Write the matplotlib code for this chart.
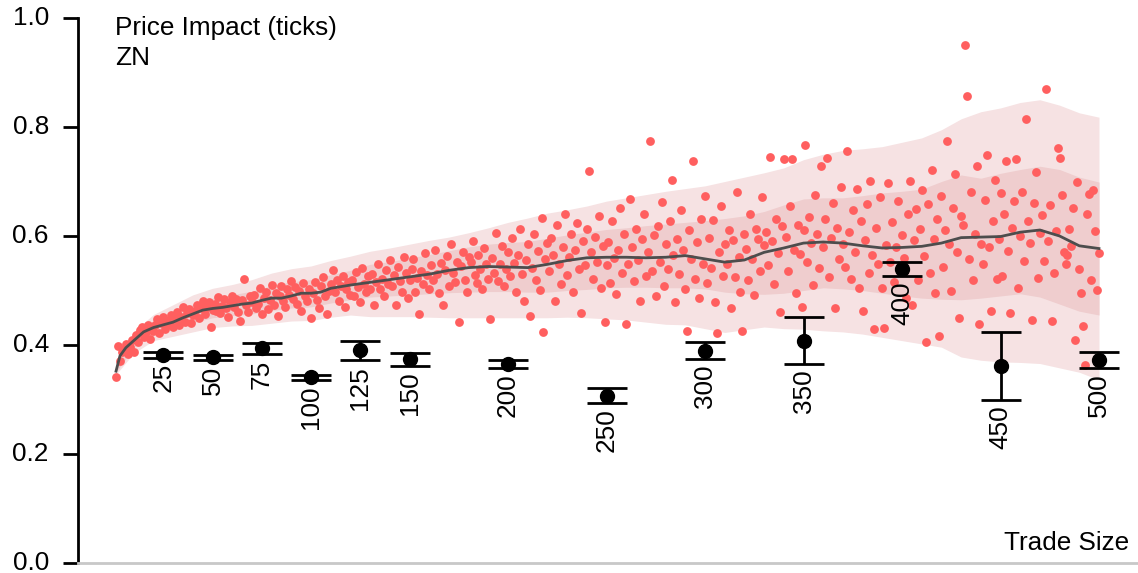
import numpy as np
import matplotlib
matplotlib.use("Agg")
import matplotlib.pyplot as plt

plt.rcParams['font.family'] = ['Liberation Sans', 'DejaVu Sans']

# Average price impact (ticks) for each trade size 1..500
trade_size = np.arange(1, 501)
impact = np.array([
    0.341, 0.398, 0.371, 0.388, 0.392, 0.402, 0.384, 0.396, 0.410, 0.388,
    0.419, 0.405, 0.428, 0.433, 0.415, 0.424, 0.437, 0.411, 0.430, 0.426,
    0.436, 0.447, 0.422, 0.441, 0.452, 0.430, 0.444, 0.438, 0.455, 0.433,
    0.448, 0.461, 0.437, 0.452, 0.470, 0.443, 0.458, 0.466, 0.440, 0.455,
    0.462, 0.474, 0.449, 0.468, 0.481, 0.456, 0.470, 0.478, 0.433, 0.465,
    0.476, 0.463, 0.488, 0.458, 0.471, 0.484, 0.467, 0.452, 0.479, 0.490,
    0.470, 0.485, 0.461, 0.444, 0.482, 0.521, 0.473, 0.460, 0.489, 0.478,
    0.492, 0.468, 0.476, 0.505, 0.457, 0.487, 0.498, 0.466, 0.483, 0.511,
    0.474, 0.496, 0.453, 0.489, 0.508, 0.480, 0.470, 0.503, 0.492, 0.518,
    0.485, 0.507, 0.476, 0.499, 0.462, 0.513, 0.490, 0.481, 0.502, 0.450,
    0.495, 0.516, 0.483, 0.468, 0.508, 0.525, 0.489, 0.457, 0.500, 0.512,
    0.538, 0.497, 0.519, 0.481, 0.508, 0.527, 0.470, 0.503, 0.515, 0.492,
    0.520, 0.489, 0.534, 0.506, 0.478, 0.541, 0.512, 0.497, 0.526, 0.503,
    0.530, 0.473, 0.515, 0.548, 0.502, 0.521, 0.490, 0.537, 0.512, 0.556,
    0.509, 0.528, 0.474, 0.544, 0.517, 0.498, 0.561, 0.533, 0.486, 0.520,
    0.540, 0.557, 0.497, 0.523, 0.456, 0.535, 0.512, 0.568, 0.529, 0.503,
    0.546, 0.519, 0.575, 0.530, 0.495, 0.551, 0.474, 0.538, 0.563, 0.508,
    0.586, 0.532, 0.515, 0.553, 0.442, 0.545, 0.570, 0.520, 0.498, 0.562,
    0.553, 0.591, 0.528, 0.514, 0.566, 0.539, 0.502, 0.578, 0.548, 0.521,
    0.448, 0.560, 0.533, 0.605, 0.517, 0.549, 0.582, 0.509, 0.540, 0.571,
    0.527, 0.596, 0.551, 0.498, 0.565, 0.612, 0.530, 0.480, 0.556, 0.585,
    0.453, 0.541, 0.604, 0.520, 0.572, 0.501, 0.633, 0.424, 0.558, 0.588,
    0.535, 0.597, 0.566, 0.481, 0.621, 0.549, 0.512, 0.580, 0.640, 0.528,
    0.561, 0.603, 0.498, 0.575, 0.624, 0.539, 0.458, 0.590, 0.547, 0.612,
    0.719, 0.570, 0.521, 0.598, 0.553, 0.636, 0.505, 0.581, 0.442, 0.546,
    0.589, 0.514, 0.627, 0.560, 0.493, 0.575, 0.651, 0.532, 0.603, 0.439,
    0.548, 0.668, 0.580, 0.517, 0.612, 0.556, 0.481, 0.594, 0.640, 0.527,
    0.571, 0.774, 0.535, 0.602, 0.490, 0.618, 0.552, 0.663, 0.509, 0.586,
    0.540, 0.627, 0.703, 0.566, 0.478, 0.595, 0.531, 0.648, 0.574, 0.503,
    0.426, 0.611, 0.557, 0.738, 0.522, 0.589, 0.486, 0.632, 0.548, 0.674,
    0.513, 0.597, 0.541, 0.630, 0.478, 0.422, 0.570, 0.655, 0.527, 0.586,
    0.548, 0.611, 0.467, 0.593, 0.525, 0.680, 0.562, 0.497, 0.426, 0.604,
    0.577, 0.520, 0.641, 0.558, 0.491, 0.612, 0.595, 0.536, 0.671, 0.583,
    0.608, 0.547, 0.745, 0.590, 0.512, 0.632, 0.568, 0.461, 0.618, 0.741,
    0.599, 0.536, 0.655, 0.741, 0.574, 0.496, 0.620, 0.567, 0.470, 0.611,
    0.767, 0.553, 0.635, 0.588, 0.510, 0.676, 0.604, 0.542, 0.728, 0.579,
    0.631, 0.743, 0.524, 0.597, 0.660, 0.468, 0.615, 0.557, 0.690, 0.585,
    0.543, 0.756, 0.607, 0.521, 0.648, 0.570, 0.686, 0.505, 0.628, 0.462,
    0.592, 0.658, 0.533, 0.701, 0.566, 0.429, 0.614, 0.549, 0.672, 0.505,
    0.431, 0.583, 0.697, 0.553, 0.625, 0.516, 0.579, 0.665, 0.538, 0.602,
    0.560, 0.487, 0.640, 0.701, 0.474, 0.593, 0.650, 0.520, 0.612, 0.685,
    0.564, 0.406, 0.659, 0.533, 0.722, 0.594, 0.495, 0.631, 0.417, 0.674,
    0.543, 0.611, 0.774, 0.586, 0.500, 0.652, 0.713, 0.571, 0.449, 0.637,
    0.620, 0.950, 0.857, 0.557, 0.681, 0.520, 0.603, 0.728, 0.439, 0.585,
    0.548, 0.666, 0.749, 0.580, 0.462, 0.627, 0.703, 0.521, 0.594, 0.679,
    0.527, 0.640, 0.738, 0.573, 0.458, 0.615, 0.665, 0.741, 0.505, 0.600,
    0.681, 0.554, 0.815, 0.628, 0.588, 0.445, 0.660, 0.718, 0.523, 0.605,
    0.638, 0.555, 0.870, 0.590, 0.657, 0.444, 0.532, 0.610, 0.761, 0.743,
    0.676, 0.570, 0.548, 0.565, 0.612, 0.581, 0.652, 0.409, 0.700, 0.540,
    0.495, 0.435, 0.363, 0.640, 0.677, 0.520, 0.684, 0.610, 0.501, 0.568,
])

# Smoothed impact curve
curve_size = [1, 3, 6, 10, 15, 20, 25, 30, 35, 40, 45, 50, 55, 60, 65, 70,
              75, 80, 85, 90, 95, 100, 105, 110, 120, 130, 140, 150, 160,
              170, 180, 190, 200, 210, 220, 230, 240, 250, 260, 270, 280,
              290, 300, 310, 320, 330, 340, 350, 360, 370, 380, 390, 400,
              410, 420, 430, 440, 450, 460, 470, 480, 490, 500]
curve_impact = [0.352, 0.380, 0.395, 0.408, 0.424, 0.432, 0.437, 0.442,
                0.450, 0.457, 0.464, 0.467, 0.469, 0.472, 0.475, 0.477,
                0.482, 0.486, 0.486, 0.490, 0.495, 0.495, 0.497, 0.504,
                0.510, 0.515, 0.520, 0.525, 0.530, 0.537, 0.542, 0.544,
                0.543, 0.542, 0.548, 0.555, 0.560, 0.561, 0.561, 0.560,
                0.561, 0.564, 0.558, 0.552, 0.556, 0.570, 0.578, 0.587,
                0.589, 0.587, 0.582, 0.578, 0.579, 0.581, 0.587, 0.597,
                0.598, 0.599, 0.607, 0.611, 0.600, 0.582, 0.577]

# Dispersion bands around the curve
band_size = [1] + list(range(10, 501, 10))
inner_low = [0.350, 0.395, 0.420, 0.430, 0.441, 0.450, 0.454, 0.457, 0.463,
             0.468, 0.470, 0.477, 0.483, 0.488, 0.490, 0.492, 0.494, 0.496,
             0.497, 0.498, 0.498, 0.497, 0.497, 0.500, 0.502, 0.505, 0.506,
             0.506, 0.505, 0.505, 0.503, 0.497, 0.494, 0.493, 0.495, 0.500,
             0.505, 0.503, 0.500, 0.495, 0.490, 0.486, 0.484, 0.483, 0.486,
             0.490, 0.494, 0.488, 0.475, 0.462, 0.455]
inner_high = [0.358, 0.415, 0.444, 0.460, 0.475, 0.486, 0.492, 0.499, 0.509,
              0.516, 0.520, 0.529, 0.537, 0.548, 0.553, 0.560, 0.566, 0.573,
              0.580, 0.585, 0.588, 0.590, 0.596, 0.602, 0.607, 0.612, 0.615,
              0.619, 0.622, 0.625, 0.628, 0.632, 0.637, 0.645, 0.657, 0.668,
              0.670, 0.670, 0.674, 0.679, 0.682, 0.686, 0.700, 0.712, 0.706,
              0.715, 0.722, 0.728, 0.722, 0.708, 0.699]
outer_low = [0.346, 0.385, 0.408, 0.416, 0.424, 0.432, 0.435, 0.436, 0.440,
             0.444, 0.445, 0.451, 0.455, 0.452, 0.452, 0.452, 0.451, 0.450,
             0.450, 0.450, 0.450, 0.450, 0.450, 0.451, 0.450, 0.448, 0.446,
             0.442, 0.438, 0.437, 0.430, 0.423, 0.428, 0.433, 0.430, 0.429,
             0.426, 0.424, 0.420, 0.414, 0.408, 0.402, 0.396, 0.378, 0.372,
             0.369, 0.368, 0.366, 0.358, 0.350, 0.336]
outer_high = [0.362, 0.425, 0.456, 0.474, 0.492, 0.504, 0.511, 0.520, 0.532,
              0.540, 0.545, 0.555, 0.563, 0.572, 0.578, 0.585, 0.592, 0.598,
              0.606, 0.615, 0.625, 0.633, 0.642, 0.648, 0.655, 0.664, 0.670,
              0.676, 0.682, 0.687, 0.692, 0.700, 0.708, 0.716, 0.725, 0.740,
              0.750, 0.757, 0.760, 0.764, 0.772, 0.780, 0.795, 0.815, 0.828,
              0.835, 0.845, 0.850, 0.840, 0.826, 0.818]

# Bucketed estimates with confidence intervals
bucket_size = [25, 50, 75, 100, 125, 150, 200, 250, 300, 350, 400, 450, 500]
bucket_mean = [0.382, 0.378, 0.394, 0.341, 0.391, 0.374, 0.365, 0.306,
               0.389, 0.408, 0.540, 0.362, 0.372]
bucket_low = [0.377, 0.372, 0.383, 0.336, 0.372, 0.362, 0.358, 0.294,
              0.374, 0.365, 0.527, 0.299, 0.358]
bucket_high = [0.387, 0.382, 0.404, 0.345, 0.407, 0.385, 0.372, 0.321,
               0.405, 0.451, 0.552, 0.424, 0.387]

FS = 18.8

fig = plt.figure(figsize=(11.38, 5.73), dpi=100)
ax = fig.add_axes([78 / 1138, 10 / 573, 1 - 78 / 1138, 545 / 573])

ax.fill_between(band_size, outer_low, outer_high, color='#f6e2e3', lw=0, zorder=1)
ax.fill_between(band_size, inner_low, inner_high, color='#efcdce', lw=0, zorder=2)
ax.scatter(trade_size, impact, s=40, color='#ff5f5f', lw=0, zorder=3)
ax.plot(curve_size, curve_impact, color='#4d4d4d', lw=2.0, zorder=4)

mean = np.array(bucket_mean)
yerr = np.vstack([mean - np.array(bucket_low), np.array(bucket_high) - mean])
ax.errorbar(bucket_size, mean, yerr=yerr, fmt='o', color='black', ms=10,
            elinewidth=2.0, capsize=14.5, capthick=2.0, zorder=6)
for size, low in zip(bucket_size, bucket_low):
    ax.annotate(str(size), xy=(size, low), xytext=(0, -4),
                textcoords='offset points', rotation=90, ha='center',
                va='top', fontsize=FS, zorder=7)

ax.text(0.5, 0.969, 'Price Impact (ticks)', fontsize=FS, va='baseline', ha='left')
ax.text(0.5, 0.914, 'ZN', fontsize=FS, va='baseline', ha='left')
ax.text(515.5, 0.024, 'Trade Size', fontsize=FS, va='baseline', ha='right')

ax.set_xlim(-18.3, 519.8)
ax.set_ylim(0, 1.0)
ax.set_yticks([0.0, 0.2, 0.4, 0.6, 0.8, 1.0])
ax.set_yticklabels(['0.0', '0.2', '0.4', '0.6', '0.8', '1.0'], va='center')
ax.set_xticks([])
ax.tick_params(axis='y', length=11, width=2.0, pad=10, labelsize=FS)
for side in ('top', 'right'):
    ax.spines[side].set_visible(False)
ax.spines['left'].set_linewidth(2.0)
ax.spines['bottom'].set_color('#c8c8c8')
ax.spines['bottom'].set_linewidth(2.0)

fig.savefig('out.png', dpi=100)
